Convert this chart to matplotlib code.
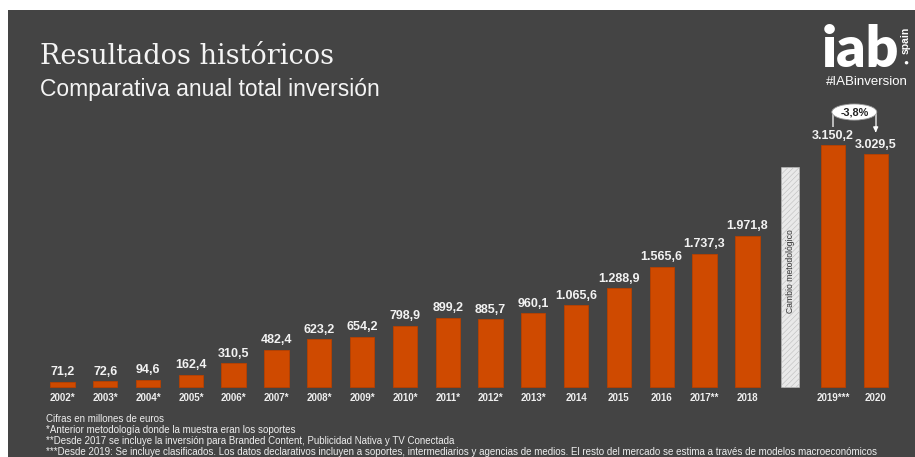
import matplotlib.pyplot as plt
from matplotlib.patches import Rectangle, Ellipse

# inversión publicitaria total, millones de euros
years = ["2002*", "2003*", "2004*", "2005*", "2006*", "2007*", "2008*", "2009*",
         "2010*", "2011*", "2012*", "2013*", "2014", "2015", "2016", "2017**", "2018"]
values = [71.2, 72.6, 94.6, 162.4, 310.5, 482.4, 623.2, 654.2, 798.9, 899.2,
          885.7, 960.1, 1065.6, 1288.9, 1565.6, 1737.3, 1971.8]
new_years = ["2019***", "2020"]
new_values = [3150.2, 3029.5]
change_label = "-3,8%"

notes = [
    "Cifras en millones de euros",
    "*Anterior metodología donde la muestra eran los soportes",
    "**Desde 2017 se incluye la inversión para Branded Content, Publicidad Nativa y TV Conectada",
    "***Desde 2019: Se incluye clasificados. Los datos declarativos incluyen a soportes, "
    "intermediarios y agencias de medios. El resto del mercado se estima a través de modelos macroeconómicos",
]

W, H = 915, 457
BG = "#444444"
BAR = "#cf4a00"
plt.rcParams["font.family"] = ["Liberation Sans", "DejaVu Sans"]
plt.rcParams["hatch.linewidth"] = 0.4


def fmt(v):
    s = f"{v:,.1f}"
    return s.replace(",", "X").replace(".", ",").replace("X", ".")


def fx(px):
    return px / W


def fy(py):
    return 1 - py / H


fig = plt.figure(figsize=(W / 100, H / 100), dpi=100, facecolor="white")
fig.patches.append(Rectangle((fx(8), 0), 1 - fx(8), fy(10), transform=fig.transFigure,
                             facecolor=BG, edgecolor="none", zorder=-10))

ax = fig.add_axes([0, 0, 1, 1])
ax.set_facecolor("none")
ax.axis("off")
ax.set_xlim(-1.460, 19.918)
ax.set_ylim(-911.5, 5039.1)

x_old = list(range(len(values)))
x_cambio = len(values)
x_new = [x_cambio + 1 + i for i in range(len(new_values))]

ax.bar(x_old + x_new, values + new_values, width=0.57, color=BAR,
       edgecolor="#b84100", linewidth=0.6, zorder=2)

# barra de cambio metodológico
ax.bar(x_cambio, 2870, width=0.42, color="#e9e9e9", edgecolor="#bcbcbc",
       hatch="//////", linewidth=0.4, zorder=2)
ax.text(x_cambio, 1510, "Cambio metodológico", rotation=90, ha="center", va="center",
        fontsize=6.2, color="#333333", zorder=3)

for x, v in zip(x_old + x_new, values + new_values):
    ax.annotate(fmt(v), (x, v), xytext=(0, 2.5), textcoords="offset points",
                ha="center", va="bottom", fontsize=9, fontweight="bold", color="#f2f2f2")

for x, lab in zip(x_old + x_new, years + new_years):
    ax.text(x, -143, lab, ha="center", va="center", fontsize=7,
            fontweight="bold", color="#eeeeee")

# flecha de variación 2019-2020
x0, x1 = x_new
y_top = max(new_values) + 430
ax.plot([x0, x0, x1, x1], [new_values[0] + 235, y_top, y_top, new_values[1] + 330],
        color="#bdbdbd", lw=1.4, zorder=3, solid_capstyle="butt")
ax.annotate("", xy=(x1, new_values[1] + 250), xytext=(x1, new_values[1] + 345),
            arrowprops=dict(arrowstyle="-|>", color="white", lw=1.0,
                            mutation_scale=7), zorder=4)
ax.add_patch(Ellipse(((x0 + x1) / 2, y_top), x1 - x0 + 0.05, 210,
                     facecolor="white", edgecolor="#999999", lw=0.6, zorder=5))
ax.text((x0 + x1) / 2, y_top, change_label, ha="center", va="center", fontsize=7.8,
        fontweight="bold", color="#222222", zorder=6)

# titulares
fig.text(fx(40), fy(64), "Resultados históricos", family="DejaVu Serif",
         fontsize=19.5, color="#f4f4f4", va="baseline")
fig.text(fx(40), fy(96), "Comparativa anual total inversión", fontsize=16.5,
         color="#f4f4f4", va="baseline")

# logotipo
fig.text(fx(822), fy(67), "iab", family="Lato", fontweight="heavy", fontsize=41,
         color="white", va="baseline")
fig.text(fx(906), fy(27), "spain", rotation=90, fontsize=7.5, fontweight="bold",
         color="white", ha="center", va="top")
fig.text(fx(906), fy(63), "●", fontsize=6, color="white", ha="center", va="center")
fig.text(fx(826), fy(82), "#IABinversion", fontsize=9.5, color="white", va="center")

for i, line in enumerate(notes):
    fig.text(fx(46), fy(419 + 11 * i), line, fontsize=7.05, color="#eeeeee", va="center")

fig.savefig("out.png", dpi=100, facecolor="white")
